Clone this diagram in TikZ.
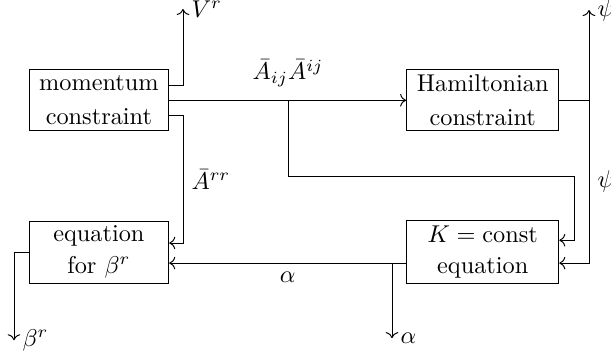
\documentclass[tikz,border=0pt]{standalone}
\usepackage{amsmath}
\usepackage{amssymb}
\usepackage{tikz}
\usetikzlibrary{arrows.meta, positioning, calc}

\begin{document}
\begin{tikzpicture}[
  blk/.style={draw, align=center, minimum height=0.88cm, inner sep=2pt},
  lcol/.style={blk, minimum width=2.02cm},
  rcol/.style={blk, minimum width=2.2cm},
  flow/.style={->}
]
\useasboundingbox (0,0) rectangle (8.835,-5.177);
% Blocks
\node[lcol] (mom) at (1.43,-1.45) {momentum\\[2pt]constraint};
\node[rcol] (ham) at (6.98,-1.45) {Hamiltonian\\[2pt]constraint};
\node[lcol] (eqb) at (1.43,-3.644) {equation\\[1pt]for $\beta^r$};
\node[rcol] (kc) at (6.98,-3.644) {$K=\mathrm{const}$\\[1pt]equation};
% Free ends and bends
\coordinate (vr) at (2.646,-0.13);
\coordinate (split) at (4.165,-1.45);
\coordinate (kbend) at (8.30,-2.545);
\coordinate (psiknee) at (8.517,-1.45);
\coordinate (psitop) at (8.517,-0.145);
\coordinate (asplit) at (5.668,-3.804);
\coordinate (aout) at (5.668,-4.89);
\coordinate (bout) at (0.2025,-4.92);
% Momentum constraint outputs
\draw[flow] ([yshift=0.22cm]mom.east) -| (vr) node[right] {$V^r$};
\draw[flow] (mom.east) -- (ham.west);
\node[above=2pt] (aa) at (split) {$\bar{A}_{ij}\bar{A}^{ij}$};
\draw[flow] (split) |- (kbend) |- ([yshift=0.17cm]kc.east);
\draw[flow] ([yshift=-0.22cm]mom.east) -- ++(0.2,0) |- ([yshift=0.13cm]eqb.east)
  node[pos=0.25, right] {$\bar{A}^{rr}$};
% Hamiltonian constraint outputs
\draw (ham.east) -- (psiknee);
\draw[flow] (psiknee) -- (psitop) node[right] {$\psi$};
\draw[flow] (psiknee) |- ([yshift=-0.16cm]kc.east) node[pos=0.25, right] {$\psi$};
% Lapse
\draw[flow] ([yshift=-0.16cm]kc.west) -- ([yshift=-0.16cm]eqb.east)
  node[midway, below] {$\alpha$};
\draw[flow] (asplit) -- (aout) node[right] {$\alpha$};
% Shift
\draw[flow] (eqb.west) -| (bout) node[right] {$\beta^r$};
\end{tikzpicture}
\end{document}
